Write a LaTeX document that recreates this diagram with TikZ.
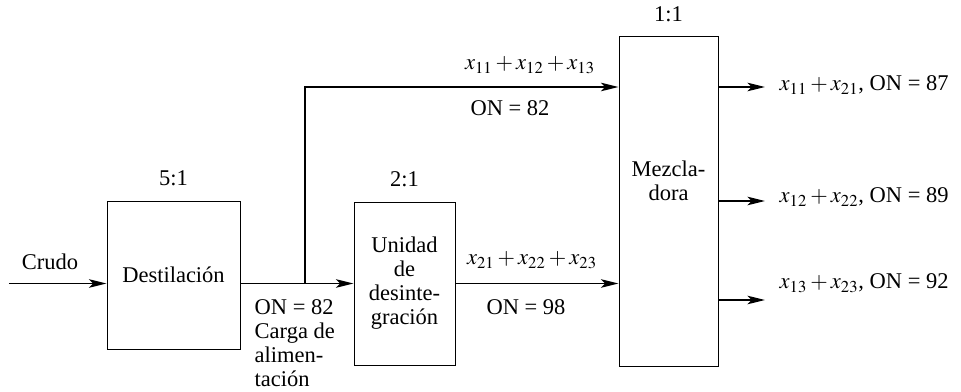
\documentclass[tikz,border=0pt]{standalone}
\usepackage{amsmath}
\usepackage{mathptmx}
\usepackage[no-math]{fontspec}
\setmainfont{Liberation Serif}
\usepackage{tikz}
\usetikzlibrary{positioning,arrows.meta}

\tikzset{
  unit/.style={draw,line width=0.55pt,align=center},
  flow/.style={line width=1pt,-{Stealth[length=3.5mm,width=1.7mm,inset=0.8mm]}},
}

\begin{document}
\begin{tikzpicture}[every node/.style={font=\rmfamily\fontsize{12.8}{13.7}\selectfont}]
    \useasboundingbox (0,0) rectangle (19.22,7.82);
    \node[unit,minimum width=2.66cm,minimum height=2.96cm] (Dest) at (3.47,2.32) {Destilación};
    \node[unit,minimum width=2.02cm,minimum height=3.26cm] (Crack) at (8.09,2.15) {Unidad\\de\\desinte-\\gración};
    \node[unit,minimum width=1.98cm,minimum height=6.6cm] (Mix) at (13.37,3.8) {};
    \node[align=center] (MixName) at ([yshift=0.4cm]Mix.center) {Mezcla-\\dora};
    \node[above=0.17cm of Dest] (r51) {5:1};
    \node[above=0.17cm of Crack] (r21) {2:1};
    \node[above=0.14cm of Mix] (r11) {1:1};
    \coordinate (crude) at (0.18,2.15);
    \coordinate (split) at (6.1,2.15);
    \coordinate (bend) at (6.1,6.08);
    \coordinate (out1) at (15.3,6.08);
    \coordinate (out2) at (15.3,3.8);
    \coordinate (out3) at (15.3,1.82);
    \node (Crude) at (1.0,2.58) {Crudo};
    \draw[flow] (crude) -- (crude -| Dest.west);
    \draw[flow] (split -| Dest.east) -- (Crack.west);
    \draw[flow] (split) |- (Mix.west |- bend);
    \draw[flow] (Crack.east) -- (Crack.east -| Mix.west);
    \node[anchor=north west,align=left] (feed) at (4.97,1.95) {ON = 82\\Carga de\\alimen-\\tación};
    \node (sum1) at (10.6,6.52) {$x_{11} + x_{12} + x_{13}$};
    \node (on1) at (10.2,5.66) {ON = 82};
    \node (sum2) at (10.64,2.62) {$x_{21} + x_{22} + x_{23}$};
    \node (on2) at (10.52,1.68) {ON = 98};
    \draw[flow] (out1 -| Mix.east) -- (out1);
    \draw[flow] (out2 -| Mix.east) -- (out2);
    \draw[flow] (out3 -| Mix.east) -- (out3);
    \node[anchor=west] (prod1) at (15.47,6.12) {$x_{11} + x_{21}$, ON = 87};
    \node[anchor=west] (prod2) at (15.47,3.88) {$x_{12} + x_{22}$, ON = 89};
    \node[anchor=west] (prod3) at (15.47,2.16) {$x_{13} + x_{23}$, ON = 92};
  \end{tikzpicture}
\end{document}
